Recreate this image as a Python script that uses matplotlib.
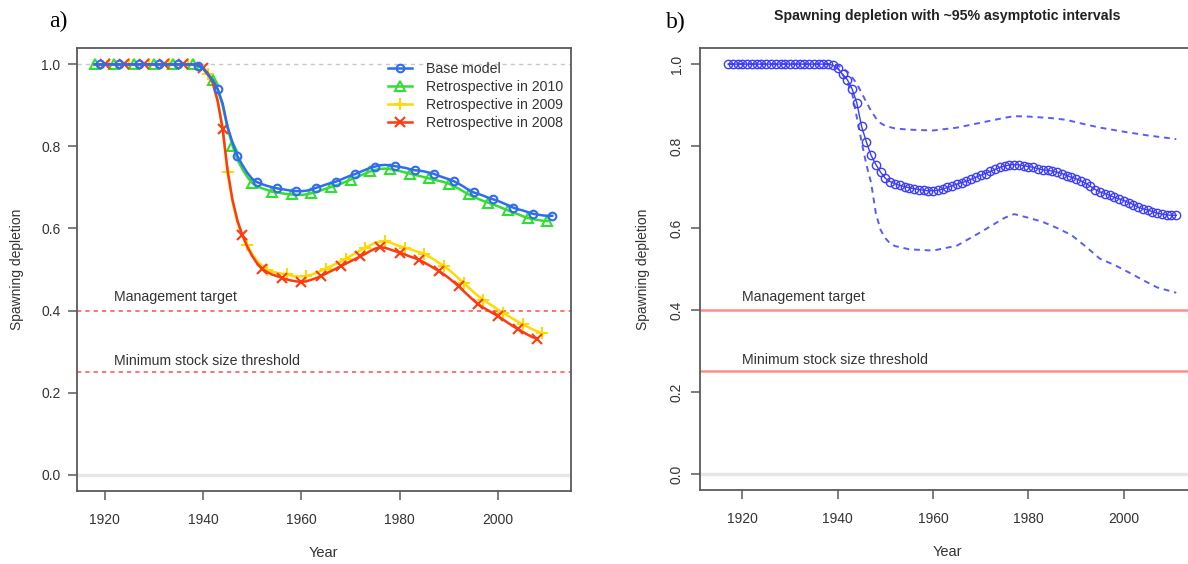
#!/usr/bin/env python3
import numpy as np
import matplotlib
matplotlib.use("Agg")
import matplotlib.pyplot as plt

plt.rcParams["font.family"] = ["Liberation Sans", "DejaVu Sans"]

# --- data (spawning depletion, fraction of unfished) ---
# base model, annual 1917-2011
base_start = 1917
base_vals = [
    1.000, 1.000, 1.000,                                                  # 1917-1919
    1.000, 1.000, 1.000, 1.000, 1.000, 1.000, 1.000, 1.000, 1.000, 1.000,  # 1920s
    1.000, 1.000, 1.000, 1.000, 1.000, 1.000, 1.000, 1.000, 1.000, 0.997,  # 1930s
    0.990, 0.975, 0.962, 0.940, 0.905, 0.848, 0.810, 0.777, 0.755, 0.736,  # 1940s
    0.721, 0.713, 0.708, 0.704, 0.701, 0.698, 0.696, 0.694, 0.692, 0.691,  # 1950s
    0.691, 0.692, 0.695, 0.699, 0.703, 0.707, 0.711, 0.714, 0.719, 0.724,  # 1960s
    0.729, 0.733, 0.738, 0.743, 0.748, 0.751, 0.754, 0.755, 0.754, 0.752,  # 1970s
    0.750, 0.748, 0.745, 0.742, 0.741, 0.739, 0.736, 0.733, 0.728, 0.724,  # 1980s
    0.720, 0.715, 0.709, 0.702, 0.694, 0.688, 0.684, 0.680, 0.675, 0.671,  # 1990s
    0.667, 0.662, 0.657, 0.651, 0.647, 0.644, 0.640, 0.636, 0.634, 0.632,  # 2000s
    0.631, 0.631,                                                         # 2010-2011
]

# retrospective runs, annual from 1918
retro_start = 1918
retro_2010 = [
    1.000, 1.000,
    1.000, 1.000, 1.000, 1.000, 1.000, 1.000, 1.000, 1.000, 1.000, 1.000,
    1.000, 1.000, 1.000, 1.000, 1.000, 1.000, 1.000, 1.000, 1.000, 0.997,
    0.990, 0.977, 0.963, 0.938, 0.900, 0.845, 0.802, 0.768, 0.745, 0.726,
    0.711, 0.703, 0.698, 0.694, 0.690, 0.688, 0.686, 0.684, 0.683, 0.682,
    0.682, 0.683, 0.686, 0.689, 0.693, 0.697, 0.701, 0.705, 0.709, 0.714,
    0.719, 0.724, 0.729, 0.734, 0.739, 0.743, 0.745, 0.746, 0.745, 0.743,
    0.740, 0.737, 0.734, 0.731, 0.728, 0.725, 0.722, 0.719, 0.716, 0.713,
    0.709, 0.703, 0.697, 0.690, 0.683, 0.677, 0.672, 0.667, 0.663, 0.658,
    0.654, 0.649, 0.644, 0.639, 0.635, 0.630, 0.626, 0.623, 0.621, 0.619,
    0.618,
]
retro_2009 = [
    1.000, 1.000,
    1.000, 1.000, 1.000, 1.000, 1.000, 1.000, 1.000, 1.000, 1.000, 1.000,
    1.000, 1.000, 1.000, 1.000, 1.000, 1.000, 1.000, 1.000, 1.000, 0.998,
    0.993, 0.976, 0.955, 0.912, 0.845, 0.737, 0.665, 0.615, 0.582, 0.559,
    0.538, 0.521, 0.509, 0.500, 0.495, 0.492, 0.490, 0.488, 0.485, 0.483,
    0.483, 0.484, 0.487, 0.492, 0.497, 0.502, 0.508, 0.514, 0.520, 0.526,
    0.533, 0.540, 0.547, 0.553, 0.559, 0.565, 0.568, 0.569, 0.566, 0.561,
    0.557, 0.553, 0.550, 0.546, 0.542, 0.538, 0.531, 0.524, 0.516, 0.508,
    0.499, 0.489, 0.478, 0.467, 0.456, 0.445, 0.435, 0.426, 0.418, 0.410,
    0.402, 0.394, 0.387, 0.380, 0.373, 0.366, 0.360, 0.354, 0.349, 0.344,
]
retro_2008 = [
    1.000, 1.000,
    1.000, 1.000, 1.000, 1.000, 1.000, 1.000, 1.000, 1.000, 1.000, 1.000,
    1.000, 1.000, 1.000, 1.000, 1.000, 1.000, 1.000, 1.000, 1.000, 0.998,
    0.992, 0.978, 0.955, 0.910, 0.843, 0.742, 0.670, 0.620, 0.584, 0.556,
    0.533, 0.515, 0.502, 0.494, 0.488, 0.484, 0.480, 0.476, 0.473, 0.471,
    0.470, 0.471, 0.475, 0.479, 0.484, 0.490, 0.496, 0.502, 0.508, 0.514,
    0.520, 0.526, 0.532, 0.538, 0.545, 0.551, 0.554, 0.553, 0.549, 0.545,
    0.541, 0.537, 0.532, 0.528, 0.523, 0.517, 0.510, 0.503, 0.496, 0.488,
    0.479, 0.469, 0.459, 0.447, 0.436, 0.425, 0.415, 0.407, 0.400, 0.393,
    0.386, 0.378, 0.370, 0.362, 0.355, 0.348, 0.341, 0.335, 0.331,
]

# ~95% asymptotic interval (panel b), read at selected years
ci_years_hi = [1917, 1938, 1940, 1941, 1942, 1943, 1944, 1945, 1946, 1947, 1948,
               1949, 1950, 1952, 1955, 1960, 1965, 1970, 1975, 1977, 1980,
               1985, 1988, 1990, 1995, 2000, 2005, 2011]
ci_hi = [1.000, 1.000, 0.997, 0.990, 0.982, 0.968, 0.952, 0.930, 0.907, 0.886, 0.868,
         0.856, 0.849, 0.843, 0.840, 0.838, 0.845, 0.857, 0.869, 0.873, 0.872,
         0.868, 0.864, 0.858, 0.845, 0.835, 0.826, 0.817]
ci_years_lo = [1917, 1938, 1940, 1941, 1942, 1943, 1944, 1945, 1946, 1947, 1948,
               1949, 1950, 1951, 1952, 1955, 1960, 1965, 1970, 1975, 1977,
               1980, 1983, 1986, 1989, 1992, 1995, 1998, 2001, 2004, 2007, 2011]
ci_lo = [1.000, 1.000, 0.990, 0.975, 0.955, 0.930, 0.870, 0.810, 0.755, 0.710, 0.635,
         0.595, 0.575, 0.562, 0.556, 0.548, 0.545, 0.557, 0.590, 0.625, 0.634,
         0.625, 0.615, 0.600, 0.583, 0.555, 0.525, 0.510, 0.492, 0.473, 0.455, 0.442]

series_labels = ["Base model", "Retrospective in 2010",
                 "Retrospective in 2009", "Retrospective in 2008"]
ref_levels = [0.4, 0.25]
ref_labels = ["Management target", "Minimum stock size threshold"]
xticks = [1920, 1940, 1960, 1980, 2000]
yticks = [0.0, 0.2, 0.4, 0.6, 0.8, 1.0]

AXIS_GREY = "#5a5a5a"
TEXT_GREY = "#333333"
TXT = 10.2  # annotation / legend text size


def years_for(start, vals):
    return np.arange(start, start + len(vals))


def style_axes(ax, rotate_y=False):
    for sp in ax.spines.values():
        sp.set_color(AXIS_GREY)
        sp.set_linewidth(1.3)
    ax.set_xticks(xticks)
    ax.set_yticks(yticks)
    ax.set_yticklabels([f"{v:.1f}" for v in yticks])
    ax.tick_params(axis="both", direction="out", length=6.5, width=1.1,
                   color=AXIS_GREY, labelcolor=TEXT_GREY, labelsize=10)
    ax.tick_params(axis="x", pad=9)
    ax.tick_params(axis="y", pad=5)
    if rotate_y:
        for lab in ax.get_yticklabels():
            lab.set_rotation(90)
            lab.set_va("center")
    ax.set_ylim(-0.04, 1.04)


def panel_a(ax):
    by = years_for(base_start, base_vals)
    keep = by >= retro_start
    ax.axhline(1.0, color="#c8c8c8", lw=1.0, ls=(0, (3, 3)), zorder=1)
    ax.axhline(0.0, color="#e6e6e6", lw=2.5, zorder=1)
    for lvl, lab in zip(ref_levels, ref_labels):
        ax.axhline(lvl, color="#ff5a5a", lw=1.2, ls=(0, (2.5, 2.5)), zorder=1)
        ax.text(1922, lvl + 0.032 if lvl > 0.3 else lvl + 0.028, lab,
                fontsize=TXT, color=TEXT_GREY, va="center", ha="left")

    ax.plot(by[keep], np.asarray(base_vals)[keep], color="#2f6cf2", lw=1.8,
            marker="o", ms=5.5, mfc="none", mew=1.5, markevery=(1, 4),
            label=series_labels[0], zorder=5)
    ax.plot(years_for(retro_start, retro_2010), retro_2010, color="#33dd33", lw=1.8,
            marker="^", ms=6.5, mfc="none", mew=1.5, markevery=(0, 4),
            label=series_labels[1], zorder=4)
    ax.plot(years_for(retro_start, retro_2009), retro_2009, color="#ffd900", lw=1.8,
            marker="+", ms=8, mew=1.5, markevery=(3, 4),
            label=series_labels[2], zorder=3)
    ax.plot(years_for(retro_start, retro_2008), retro_2008, color="#ff3a10", lw=1.8,
            marker="x", ms=6.5, mew=1.5, markevery=(2, 4),
            label=series_labels[3], zorder=4)

    style_axes(ax)
    ax.set_xlim(1914.3, 2014.8)
    ax.set_xlabel("Year", fontsize=10.5, color=TEXT_GREY)
    ax.xaxis.set_label_coords(0.5, -0.125)
    ax.set_ylabel("Spawning depletion", fontsize=10, color=TEXT_GREY)
    ax.yaxis.set_label_coords(-0.107, 0.5)
    ax.legend(loc="upper right", bbox_to_anchor=(1.0, 0.984), frameon=False,
              fontsize=TXT, handlelength=1.75, handletextpad=1.0,
              labelspacing=0.27, borderaxespad=0.22, borderpad=0.3,
              labelcolor=TEXT_GREY)


def panel_b(ax):
    by = years_for(base_start, base_vals)
    ax.axhline(0.0, color="#e6e6e6", lw=2.5, zorder=1)
    for lvl, lab in zip(ref_levels, ref_labels):
        ax.axhline(lvl, color="#ff8c8c", lw=1.8, zorder=1)
        ax.text(1920, lvl + 0.031 if lvl > 0.3 else lvl + 0.028, lab,
                fontsize=TXT, color=TEXT_GREY, va="center", ha="left")
    ax.plot(ci_years_hi, ci_hi, color="#5a5aff", lw=1.4, ls=(0, (3, 2.5)), zorder=3)
    ax.plot(ci_years_lo, ci_lo, color="#5a5aff", lw=1.4, ls=(0, (3, 2.5)), zorder=3)
    ax.plot(by, base_vals, color="#3c3cff", lw=1.0, marker="o", ms=6, mfc="none",
            mew=1.0, zorder=4)

    style_axes(ax, rotate_y=True)
    ax.set_xlim(1911.1, 2016.8)
    ax.set_xlabel("Year", fontsize=10.5, color=TEXT_GREY)
    ax.xaxis.set_label_coords(0.49, -0.123)
    ax.set_ylabel("Spawning depletion", fontsize=10, color=TEXT_GREY)
    ax.yaxis.set_label_coords(-0.100, 0.5)
    # title sits well above the frame, centred near x = 947 px
    ax.set_title("Spawning depletion with ~95% asymptotic intervals",
                 fontsize=10.2, fontweight="bold", color="#222222", pad=0,
                 x=0.49, y=1.0 + 28 / (0.7847 * 564))


def main():
    assert len(base_vals) == 2011 - base_start + 1
    fig = plt.figure(figsize=(11.88, 5.64), dpi=100)
    ax_a = fig.add_axes([0.0644, 0.1294, 0.4162, 0.7855])
    ax_b = fig.add_axes([0.5892, 0.1307, 0.4242, 0.7847])
    panel_a(ax_a)
    panel_b(ax_b)

    fig.text(58 / 1188, 1 - 21 / 564, "a)", fontsize=17, family="Liberation Serif",
             ha="center", va="center", color="black")
    fig.text(676 / 1188, 1 - 22 / 564, "b)", fontsize=17, family="Liberation Serif",
             ha="center", va="center", color="black")

    fig.savefig("out.png", dpi=100)
    plt.close(fig)


if __name__ == "__main__":
    main()
